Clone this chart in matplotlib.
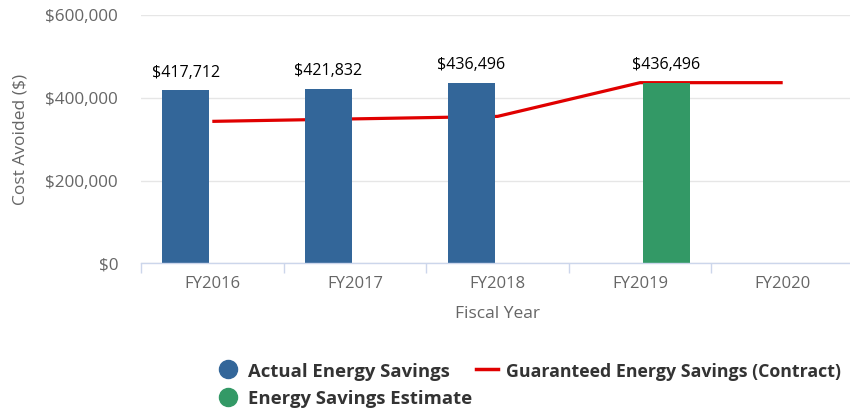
import numpy as np
import matplotlib
matplotlib.use("Agg")
import matplotlib.pyplot as plt
from matplotlib.lines import Line2D
from matplotlib.ticker import FuncFormatter, FixedLocator

categories = ["FY2016", "FY2017", "FY2018", "FY2019", "FY2020"]
actual = [417712, 421832, 436496, np.nan, np.nan]
estimate = [np.nan, np.nan, np.nan, 436496, np.nan]
guaranteed = [343000, 349000, 355000, 436496, 436496]
yticks = [0, 200000, 400000, 600000]
legend_labels = ["Actual Energy Savings", "Energy Savings Estimate",
                 "Guaranteed Energy Savings (Contract)"]

BLUE = "#336699"
GREEN = "#339966"
RED = "#e00000"
GRAY = "#666666"

plt.rcParams["font.family"] = ["Open Sans", "DejaVu Sans"]

fig = plt.figure(figsize=(8.5, 4.11), dpi=100)
W, H = 850, 411
left, right, top, bottom = 141, 854, 15, 263.3
ax = fig.add_axes([left / W, 1 - bottom / H, (right - left) / W, (bottom - top) / H])

x = np.arange(len(categories))
off = 0.185
bw = 0.33

ax.plot(x, guaranteed, color=RED, lw=2.3, zorder=2, solid_capstyle="butt")
ax.bar(x - off, actual, width=bw, color=BLUE, zorder=3)
ax.bar(x + off, estimate, width=bw, color=GREEN, zorder=3)

for xi, v in zip(x - off, actual):
    if not np.isnan(v):
        ax.annotate(f"${v:,.0f}", (xi, v), xytext=(0, 7), textcoords="offset points",
                    ha="center", va="bottom", fontsize=11.5, color="black")
for xi, v in zip(x + off, estimate):
    if not np.isnan(v):
        ax.annotate(f"${v:,.0f}", (xi, v), xytext=(0, 7), textcoords="offset points",
                    ha="center", va="bottom", fontsize=11.5, color="black")

ax.set_xlim(-0.5, len(categories) - 0.5)
ax.set_ylim(0, 600000)
ax.set_yticks(yticks)
ax.yaxis.set_major_formatter(FuncFormatter(lambda v, p: f"${v:,.0f}"))
ax.grid(axis="y", color="#e6e6e6", lw=1, zorder=0)
ax.set_axisbelow(True)

for s in ["top", "right", "left"]:
    ax.spines[s].set_visible(False)
ax.spines["bottom"].set_color("#ccd6eb")
ax.spines["bottom"].set_linewidth(1)
ax.spines["bottom"].set_zorder(4)

ax.set_xticks(x)
ax.set_xticklabels(categories)
ax.xaxis.set_minor_locator(FixedLocator(np.arange(-0.5, len(categories), 1.0)))
ax.tick_params(axis="x", which="major", length=0, pad=9, labelsize=12, labelcolor=GRAY)
ax.tick_params(axis="x", which="minor", length=7.2, width=1, color="#ccd6eb")
ax.tick_params(axis="y", length=0, pad=16.5, labelsize=12.3, labelcolor=GRAY)

ax.set_xlabel("Fiscal Year", fontsize=12.5, color=GRAY)
ax.xaxis.label.set_va("center")
ax.xaxis.set_label_coords(0.5, (bottom - 314) / (bottom - top))
ax.set_ylabel("Cost Avoided ($)", fontsize=12.5, color=GRAY)
ax.yaxis.label.set_va("center")
ax.yaxis.set_label_coords((21 - left) / (right - left), 0.5)

# Legend drawn in figure pixel coordinates
def fx(px):
    return px / W

def fy(py):
    return 1 - py / H

legend_items = [
    ("circle", BLUE, legend_labels[0], 228, 369, 248, 376.7, 13.3),
    ("circle", GREEN, legend_labels[1], 228, 397, 248, 404.3, 13.3),
    ("line", RED, legend_labels[2], 487, 369, 506, 376.7, 12.8),
]
for kind, col, lab, hx, hy, tx, ty, fs in legend_items:
    if kind == "circle":
        fig.add_artist(Line2D([fx(hx)], [fy(hy)], marker="o", ls="none", color=col,
                              markersize=13, transform=fig.transFigure))
    else:
        fig.add_artist(Line2D([fx(hx - 11), fx(hx + 11)], [fy(hy), fy(hy)], color=col,
                              lw=2.5, transform=fig.transFigure))
    fig.text(fx(tx), fy(ty), lab, ha="left", va="baseline", fontsize=fs,
             fontweight="bold", color="#333333")

fig.savefig("out.png", dpi=100)
